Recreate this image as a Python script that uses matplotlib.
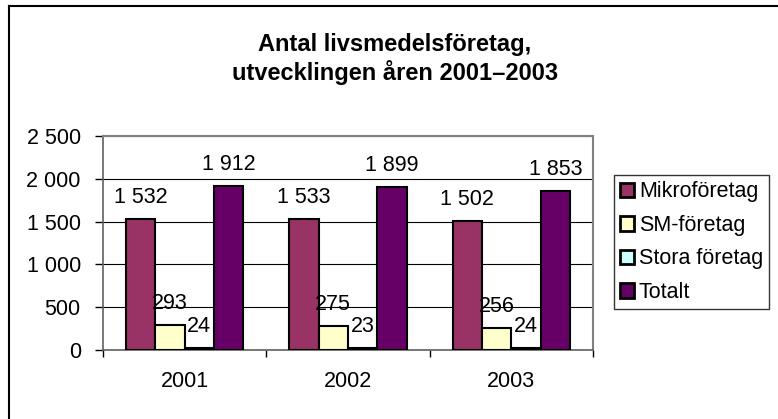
import numpy as np
import matplotlib
matplotlib.use("Agg")
import matplotlib.pyplot as plt

plt.rcParams['font.family'] = ['Liberation Sans', 'DejaVu Sans']

# Data
years = ['2001', '2002', '2003']
series = ['Mikroföretag', 'SM-företag', 'Stora företag', 'Totalt']
mikro = [1532, 1533, 1502]
sm = [293, 275, 256]
stora = [24, 23, 24]
totalt = [1912, 1899, 1853]
colors = ['#993366', '#FFFFCC', '#CCFFFF', '#660066']

def fmt(v):
    return f"{v:,}".replace(",", " ")

fig = plt.figure(figsize=(7.78, 4.19), dpi=100)
fig.patch.set_facecolor('white')

# outer chart border (left and top only visible)
fig.add_artist(plt.Line2D([8.5 / 778, 8.5 / 778], [0, 1 - 6 / 419], color='black', lw=1.5))
fig.add_artist(plt.Line2D([8.5 / 778, 1], [1 - 6 / 419, 1 - 6 / 419], color='black', lw=1.5))

ax = fig.add_axes([103 / 778, 1 - 350 / 419, 490 / 778, 214 / 419])

fs = 15.5
x = np.arange(len(years))
w = 0.18
values = [mikro, sm, stora, totalt]
for i, (vals, name, c) in enumerate(zip(values, series, colors)):
    pos = x + (i - 1.5) * w
    ax.bar(pos, vals, width=w, color=c, edgecolor='black', linewidth=1.5,
           label=name, zorder=3)
    for p, v in zip(pos, vals):
        ax.annotate(fmt(v), (p, v), xytext=(0, 8), textcoords='offset points',
                    ha='center', va='bottom', fontsize=fs, zorder=5)

ax.set_xlim(-0.5, 2.5)
ax.set_ylim(0, 2500)
ax.set_yticks(np.arange(0, 2501, 500))
ax.set_yticklabels([fmt(v) for v in range(0, 2501, 500)])
ax.yaxis.grid(True, color='black', linewidth=0.8, zorder=0)
ax.set_axisbelow(True)

ax.set_xticks([-0.5, 0.5, 1.5, 2.5])
ax.set_xticklabels([])
ax.set_xticks(x, minor=True)
ax.set_xticklabels(years, minor=True)
ax.tick_params(axis='x', which='minor', length=0, pad=15, labelsize=fs)
ax.tick_params(axis='x', which='major', length=5, width=1, color='black', direction='out')
ax.tick_params(axis='y', length=6, width=1, color='black', pad=10, labelsize=fs)

for s in ['top', 'right']:
    ax.spines[s].set_color('#808080')
    ax.spines[s].set_linewidth(1.5)
for s in ['left', 'bottom']:
    ax.spines[s].set_color('#606060')
    ax.spines[s].set_linewidth(1.2)

fig.text(395 / 778, 1 - 33 / 419,
         'Antal livsmedelsföretag,\nutvecklingen åren 2001–2003',
         ha='center', va='top', fontsize=17, fontweight='bold', linespacing=1.2)

leg = ax.legend(loc='upper left', bbox_to_anchor=(614 / 778, 1 - 175 / 419),
                bbox_transform=fig.transFigure, borderaxespad=0,
                fontsize=fs, frameon=True, fancybox=False, shadow=False,
                handlelength=0.65, handleheight=0.65, handletextpad=0.2,
                labelspacing=0.58, borderpad=0.3)
leg.get_frame().set_edgecolor('black')
leg.get_frame().set_linewidth(1.0)
for h in leg.legend_handles:
    h.set_linewidth(2)

fig.savefig('out.png', dpi=100)
